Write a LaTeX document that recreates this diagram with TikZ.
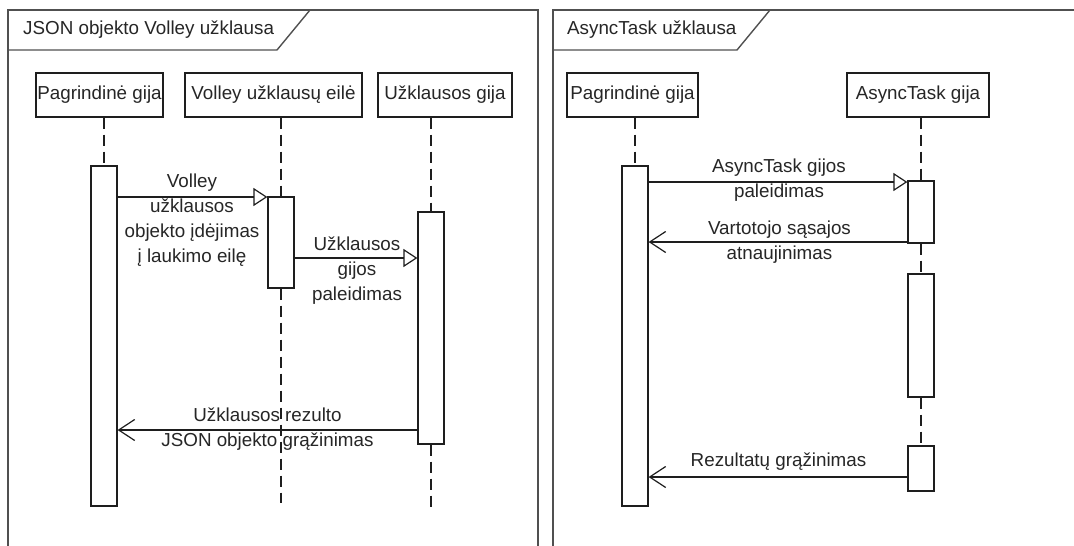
\documentclass[tikz,border=0pt]{standalone}
\usepackage{fontspec}
\setmainfont{Liberation Sans}
\usetikzlibrary{arrows.meta}
\definecolor{framegray}{HTML}{505050}
\definecolor{linecol}{HTML}{1E1E1E}
\definecolor{textcol}{HTML}{262626}
\newcommand\lblfont{\fontsize{18.8}{25}\selectfont}

\begin{document}
\begin{tikzpicture}[x=1pt,y=-1pt,
  frameline/.style={draw=framegray, line width=1.4pt},
  headbox/.style={draw=linecol, line width=1.2pt, minimum height=44pt, inner sep=0pt, font=\lblfont, text=textcol},
  actbox/.style={draw=linecol, fill=white, line width=1.2pt, minimum width=26pt, inner sep=0pt},
  lifeline/.style={draw=linecol, line width=1.2pt, dash pattern=on 11pt off 6pt},
  callmsg/.style={draw=linecol, line width=1.2pt, -{Triangle[open, length=14pt, width=18pt, line width=1.2pt]}},
  replymsg/.style={draw=linecol, line width=1.2pt, -{Straight Barb[length=16pt, width=21pt, line width=1.2pt]}},
  msglabel/.style={font=\lblfont, align=center, inner sep=0pt, text=textcol},
  titlelabel/.style={font=\lblfont, inner sep=0pt, text=textcol, anchor=west}]
\useasboundingbox (0,0) rectangle (1074,546);
\fill[white] (0,0) rectangle (1074,546);
\clip (0,0) rectangle (1074,546);

% ---------- left frame: JSON objekto Volley užklausa ----------
\draw[frameline] (8,560) -- (8,10) -- (538,10) -- (538,560);
\draw[frameline] (8,50) -- (277,50) -- (310,10);
\node[titlelabel] (ltitle) at (23,30) {JSON objekto Volley užklausa};

\node[headbox, minimum width=127pt] (lpH) at (99.5,95) {Pagrindinė gija};
\node[headbox, minimum width=177pt] (lvH) at (273.5,95) {Volley užklausų eilė};
\node[headbox, minimum width=134pt] (luH) at (445,95) {Užklausos gija};

\coordinate (lvE) at (281,503);
\coordinate (luE) at (431,507);

\node[actbox, minimum height=340pt] (lpA) at (104,336) {};
\node[actbox, minimum height=91pt] (lvA) at (281,242.5) {};
\node[actbox, minimum height=232pt] (luA) at (431,328) {};

\draw[lifeline] (lpH.south -| lpA) -- (lpA.north);
\draw[lifeline] (lvH.south -| lvA) -- (lvA.north);
\draw[lifeline] (lvA.south) -- (lvE);
\draw[lifeline] (luH.south -| luA) -- (luA.north);
\draw[lifeline] (luA.south) -- (luE);
\node[actbox, minimum height=91pt] at (lvA) {};
\node[actbox, minimum height=232pt] at (luA) {};

\draw[callmsg] (lpA.east |- 0,197) -- (lvA.west |- 0,197);
\node[msglabel] (lm1) at (192,220) {Volley\\užklausos\\objekto įdėjimas\\į laukimo eilę};
\draw[callmsg] (lvA.east |- 0,258) -- (luA.west |- 0,258);
\node[msglabel] (lm2) at (357,271) {Užklausos\\gijos\\paleidimas};
\draw[replymsg] (luA.west |- 0,430) -- (lpA.east |- 0,430);
\node[msglabel] (lm3) at (267.5,429.5) {Užklausos rezulto\\JSON objekto grąžinimas};

% ---------- right frame: AsyncTask užklausa ----------
\draw[frameline] (553,560) -- (553,10) -- (1090,10);
\draw[frameline] (553,50) -- (737,50) -- (770,10);
\node[titlelabel] (rtitle) at (567,30) {AsyncTask užklausa};

\node[headbox, minimum width=131pt] (rpH) at (632.5,95) {Pagrindinė gija};
\node[headbox, minimum width=142pt] (raH) at (918,95) {AsyncTask gija};

\node[actbox, minimum height=340pt] (rpA) at (635,336) {};
\node[actbox, minimum height=62pt] (ra1) at (921,212) {};
\node[actbox, minimum height=123pt] (ra2) at (921,335.5) {};
\node[actbox, minimum height=45pt] (ra3) at (921,468.5) {};

\draw[lifeline] (rpH.south -| rpA) -- (rpA.north);
\draw[lifeline] (raH.south -| ra1) -- (ra1.north);
\draw[lifeline] (ra1.south) -- (ra2.north);
\draw[lifeline] (ra2.south) -- (ra3.north);

\draw[callmsg] (rpA.east |- 0,182) -- (ra1.west |- 0,182);
\node[msglabel] (rm1) at (779,180.5) {AsyncTask gijos\\paleidimas};
\draw[replymsg] (ra1.west |- 0,242) -- (rpA.east |- 0,242);
\node[msglabel] (rm2) at (779.5,242.5) {Vartotojo sąsajos\\atnaujinimas};
\draw[replymsg] (ra3.west |- 0,477) -- (rpA.east |- 0,477);
\node[msglabel] (rm3) at (778.5,462) {Rezultatų grąžinimas};
\end{tikzpicture}
\end{document}
